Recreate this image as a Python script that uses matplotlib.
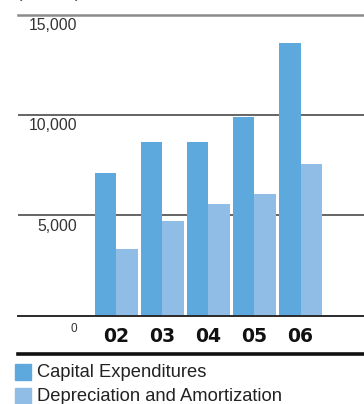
import matplotlib
matplotlib.use("Agg")
import matplotlib.pyplot as plt
from matplotlib.patches import Rectangle
import numpy as np

# capital spending vs. depreciation, by fiscal year
years = ["02", "03", "04", "05", "06"]
capex = [7100, 8650, 8650, 9900, 13600]
depreciation = [3300, 4700, 5550, 6050, 7550]
y_ticks = [5000, 10000, 15000]
series_names = ["Capital Expenditures", "Depreciation and Amortization"]

CAPEX_COLOR = "#5DA9DE"
DEP_COLOR = "#8FBDE5"

W, H = 364, 404
fig = plt.figure(figsize=(W / 100, H / 100), dpi=100)

# axes placed in pixel terms: zero line at y=315, 15,000 at y=14.5
ax = fig.add_axes([18 / W, (H - 315.5) / H, (W - 18) / W, 301 / H])
ax.set_axis_off()
ax.set_ylim(0, 15000)
ax.set_xlim(-2.14, 5.38)

x = np.arange(len(years))
bw = 0.47
ax.bar(x - bw / 2, capex, width=bw, color=CAPEX_COLOR, zorder=2)
ax.bar(x + bw / 2, depreciation, width=bw, color=DEP_COLOR, zorder=2)

# gridlines: top one lighter
for v in y_ticks:
    if v == 15000:
        ax.axhline(v, color="#8a8a8a", lw=1.8, zorder=1, clip_on=False)
    else:
        ax.axhline(v, color="#3a3a3a", lw=1.1, zorder=1)
ax.axhline(0, color="#2a2a2a", lw=1.4, zorder=3, clip_on=False)

# value labels sit just under each gridline
for v in y_ticks:
    ax.annotate(f"{v:,}", xy=(0, v), xycoords=("axes fraction", "data"),
                xytext=(59, -11), textcoords="offset pixels",
                ha="right", va="center", fontsize=11.3,
                family="Liberation Sans", color="#333333")
ax.annotate("0", xy=(0, 0), xycoords=("axes fraction", "data"),
            xytext=(59, -13), textcoords="offset pixels",
            ha="right", va="center", fontsize=8.5,
            family="Liberation Sans", color="#333333")

for xi, lab in zip(x, years):
    ax.annotate(lab, xy=(xi, 0), xycoords="data",
                xytext=(0, -21), textcoords="offset pixels",
                ha="center", va="center", fontsize=13.5,
                fontweight="bold", family="DejaVu Sans", color="#111111")

# heavy rule under the year labels
fig.add_artist(plt.Line2D([18 / W, 1], [(H - 353.5) / H] * 2,
                          color="#111111", lw=2.6))

# unit caption, mostly above the top edge
fig.text(17 / W, (H - 1) / H, "(millions)", fontsize=11.3,
         family="Liberation Sans", color="#333333", va="bottom")

# legend
for i, (name, col) in enumerate(zip(series_names, [CAPEX_COLOR, DEP_COLOR])):
    top = 364 + 24 * i
    fig.add_artist(Rectangle((15 / W, (H - top - 16) / H), 16 / W, 16 / H,
                             transform=fig.transFigure, color=col))
    fig.text(37 / W, (H - top - 8.5) / H, name, fontsize=13.2,
             family="Liberation Sans", color="#222222", va="center")

fig.savefig("out.png", dpi=100)
